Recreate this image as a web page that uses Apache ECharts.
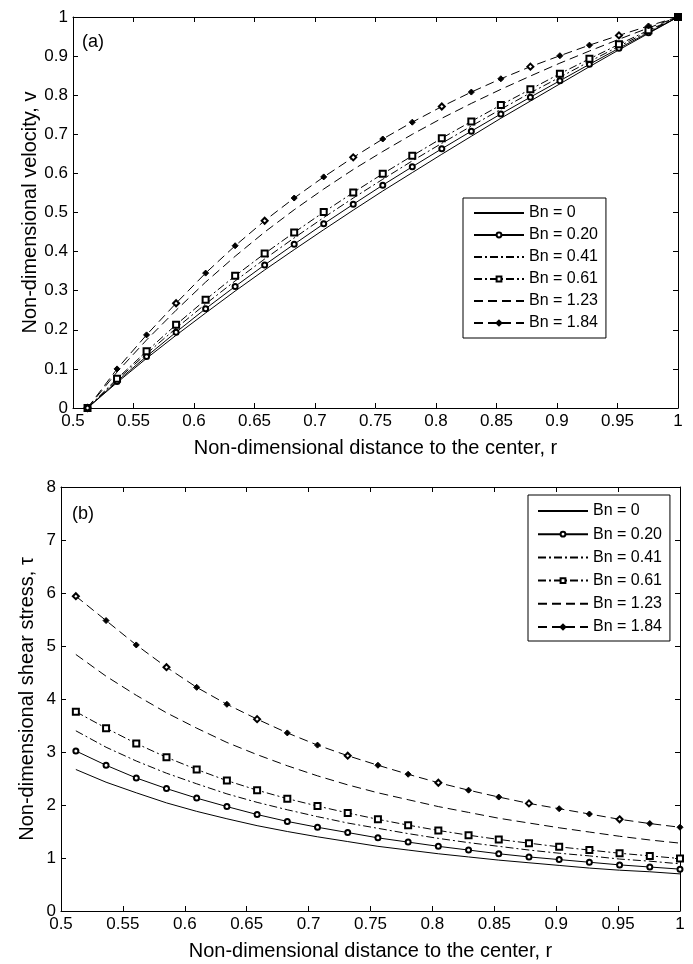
<!DOCTYPE html>
<html>
<head>
<meta charset="utf-8">
<script src="https://cdn.jsdelivr.net/npm/echarts@6/dist/echarts.min.js"></script>
<style>
html,body{margin:0;padding:0;background:#fff;}
#c{width:693px;height:964px;}
</style>
</head>
<body>
<div id="c"></div>
<script>
// radial positions (non-dimensional distance to the center)
const rValues = [0.512, 0.5364, 0.5608, 0.5852, 0.6096, 0.634, 0.6584, 0.6828, 0.7072, 0.7316, 0.756,
                 0.7804, 0.8048, 0.8292, 0.8536, 0.878, 0.9024, 0.9268, 0.9512, 0.9756, 1.0];
const seriesNames = ['Bn = 0', 'Bn = 0.20', 'Bn = 0.41', 'Bn = 0.61', 'Bn = 1.23', 'Bn = 1.84'];

// (a) velocity
const vBn0   = [0, 0.065, 0.127, 0.186, 0.243, 0.299, 0.353, 0.405, 0.456, 0.506, 0.555, 0.602, 0.649, 0.695, 0.741, 0.785, 0.829, 0.873, 0.916, 0.958, 1];
const vBn020 = [0, 0.068, 0.132, 0.194, 0.254, 0.311, 0.366, 0.419, 0.471, 0.521, 0.570, 0.617, 0.663, 0.708, 0.752, 0.795, 0.837, 0.879, 0.920, 0.960, 1];
const vBn041 = [0, 0.072, 0.139, 0.204, 0.266, 0.325, 0.381, 0.435, 0.487, 0.537, 0.585, 0.632, 0.677, 0.721, 0.764, 0.806, 0.846, 0.886, 0.925, 0.963, 1];
const vBn061 = [0, 0.075, 0.145, 0.213, 0.277, 0.338, 0.395, 0.449, 0.501, 0.551, 0.599, 0.645, 0.690, 0.733, 0.775, 0.815, 0.855, 0.893, 0.930, 0.966, 1];
const vBn123 = [0, 0.092, 0.174, 0.250, 0.322, 0.388, 0.450, 0.507, 0.560, 0.610, 0.656, 0.700, 0.741, 0.779, 0.815, 0.849, 0.882, 0.913, 0.943, 0.972, 1];
const vBn184 = [0, 0.100, 0.187, 0.268, 0.345, 0.415, 0.479, 0.537, 0.591, 0.641, 0.688, 0.731, 0.771, 0.808, 0.842, 0.873, 0.901, 0.928, 0.953, 0.977, 1];

// (b) shear stress
const tBn0   = [2.67, 2.43, 2.23, 2.04, 1.88, 1.74, 1.61, 1.50, 1.40, 1.31, 1.22, 1.15, 1.08, 1.02, 0.96, 0.91, 0.86, 0.81, 0.77, 0.74, 0.70];
const tBn020 = [3.02, 2.75, 2.51, 2.31, 2.13, 1.97, 1.82, 1.69, 1.58, 1.48, 1.38, 1.30, 1.22, 1.15, 1.08, 1.02, 0.97, 0.92, 0.87, 0.83, 0.79];
const tBn041 = [3.40, 3.09, 2.83, 2.60, 2.40, 2.21, 2.05, 1.91, 1.78, 1.66, 1.56, 1.46, 1.37, 1.29, 1.22, 1.15, 1.09, 1.04, 0.98, 0.94, 0.89];
const tBn061 = [3.76, 3.45, 3.16, 2.90, 2.67, 2.46, 2.28, 2.12, 1.98, 1.85, 1.73, 1.62, 1.52, 1.43, 1.35, 1.28, 1.21, 1.15, 1.09, 1.04, 0.99];
const tBn123 = [4.84, 4.43, 4.07, 3.74, 3.45, 3.18, 2.95, 2.74, 2.55, 2.38, 2.23, 2.10, 1.97, 1.86, 1.75, 1.66, 1.57, 1.49, 1.41, 1.34, 1.28];
const tBn184 = [5.94, 5.48, 5.02, 4.60, 4.22, 3.90, 3.62, 3.36, 3.13, 2.93, 2.75, 2.58, 2.42, 2.28, 2.15, 2.03, 1.93, 1.83, 1.73, 1.65, 1.58];

// tick labels
const xTickMin = 0.5, xTickMax = 1, xTickStep = 0.05;
const vTickMin = 0, vTickMax = 1, vTickStep = 0.1;
const tTickMin = 0, tTickMax = 8, tTickStep = 1;

const FONT = "'Liberation Sans', Arial, Helvetica, sans-serif";

const styles = [
  {symbol: 'none', type: 'solid'},
  {symbol: 'emptyCircle', size: 5, type: 'solid'},
  {symbol: 'none', type: [8, 3, 2, 3]},
  {symbol: 'emptyRect', size: 6, type: [8, 3, 2, 3]},
  {symbol: 'none', type: [9, 5]},
  {symbol: 'diamond', size: 6, type: [9, 5], alt: true}
];

function mkData(vals, st) {
  return rValues.map((x, i) => {
    if (st.alt && i % 3 === 0) return {value: [x, vals[i]], symbol: 'emptyDiamond'};
    return [x, vals[i]];
  });
}

function mkSeries(arrs, axisIdx) {
  return arrs.map((vals, k) => {
    const st = styles[k];
    return {
      name: seriesNames[k],
      type: 'line',
      xAxisIndex: axisIdx,
      yAxisIndex: axisIdx,
      data: mkData(vals, st),
      symbol: st.symbol,
      symbolSize: st.size || 4,
      showSymbol: st.symbol !== 'none',
      clip: false,
      animation: false,
      lineStyle: {color: '#000', width: 1, type: st.type},
      itemStyle: {color: '#000', borderColor: '#000', borderWidth: 1},
      emphasis: {disabled: true}
    };
  });
}

function xAx(grid, pos, show) {
  return {
    gridIndex: grid, type: 'value', position: pos,
    min: xTickMin, max: xTickMax, interval: xTickStep,
    axisLine: {show: true, onZero: false, lineStyle: {color: '#000', width: 1}},
    axisTick: {show: true, inside: true, length: 5, lineStyle: {color: '#000', width: 1}},
    axisLabel: {show: show, color: '#000', fontSize: 17, fontFamily: FONT, margin: 5},
    splitLine: {show: false},
    name: show ? 'Non-dimensional distance to the center, r' : '',
    nameLocation: 'middle', nameGap: 30, nameMoveOverlap: false,
    nameTextStyle: {color: '#000', fontSize: 20, fontFamily: FONT}
  };
}
function yAx(grid, pos, show, min, max, step, name, gap) {
  return {
    gridIndex: grid, type: 'value', position: pos,
    min: min, max: max, interval: step,
    axisLine: {show: true, onZero: false, lineStyle: {color: '#000', width: 1}},
    axisTick: {show: true, inside: true, length: 5, lineStyle: {color: '#000', width: 1}},
    axisLabel: {show: show, color: '#000', fontSize: 17, fontFamily: FONT, margin: 5},
    splitLine: {show: false},
    name: show ? name : '',
    nameLocation: 'middle', nameGap: gap, nameMoveOverlap: false,
    nameTextStyle: {color: '#000', fontSize: 20, fontFamily: FONT}
  };
}

// legend entries: hide the placeholder marker for series drawn without markers
const legendData = seriesNames.map((n, k) => styles[k].symbol === 'none'
  ? {name: n, itemStyle: {color: 'rgba(0,0,0,0)', borderColor: 'rgba(0,0,0,0)', borderWidth: 0, opacity: 0}}
  : {name: n});

const legendBase = {
  orient: 'vertical', data: legendData,
  itemWidth: 50, itemHeight: 6,
  borderColor: '#000', borderWidth: 1, backgroundColor: '#fff', borderRadius: 0,
  textStyle: {color: '#000', fontSize: 16, fontFamily: FONT},
  selectedMode: false
};

const chart = echarts.init(document.getElementById('c'), null, {renderer: 'canvas'});
chart.setOption({
  animation: false,
  backgroundColor: '#fff',
  title: [
    {text: '(a)', left: 82, top: 33, padding: 0, textStyle: {color: '#000', fontSize: 18, fontWeight: 'normal', fontFamily: FONT}},
    {text: '(b)', left: 72, top: 505, padding: 0, textStyle: {color: '#000', fontSize: 18, fontWeight: 'normal', fontFamily: FONT}}
  ],
  grid: [
    {left: 73, top: 17, width: 605, height: 391, containLabel: false, outerBoundsMode: 'none'},
    {left: 61, top: 487, width: 619, height: 424, containLabel: false, outerBoundsMode: 'none'}
  ],
  xAxis: [xAx(0, 'bottom', true), xAx(0, 'top', false), xAx(1, 'bottom', true), xAx(1, 'top', false)],
  yAxis: [
    yAx(0, 'left', true, vTickMin, vTickMax, vTickStep, 'Non-dimensional velocity, v', 33),
    yAx(0, 'right', false, vTickMin, vTickMax, vTickStep, '', 0),
    yAx(1, 'left', true, tTickMin, tTickMax, tTickStep, 'Non-dimensional shear stress, \u03c4', 24),
    yAx(1, 'right', false, tTickMin, tTickMax, tTickStep, '', 0)
  ],
  legend: [
    Object.assign({}, legendBase, {left: 463, top: 198, padding: [7, 8, 7, 10], itemGap: 6}),
    Object.assign({}, legendBase, {left: 528, top: 495, padding: [8, 8, 6, 9], itemGap: 7.2})
  ],
  series: [].concat(
    mkSeries([vBn0, vBn020, vBn041, vBn061, vBn123, vBn184], 0),
    mkSeries([tBn0, tBn020, tBn041, tBn061, tBn123, tBn184], 2)
  )
});
</script>
</body>
</html>
